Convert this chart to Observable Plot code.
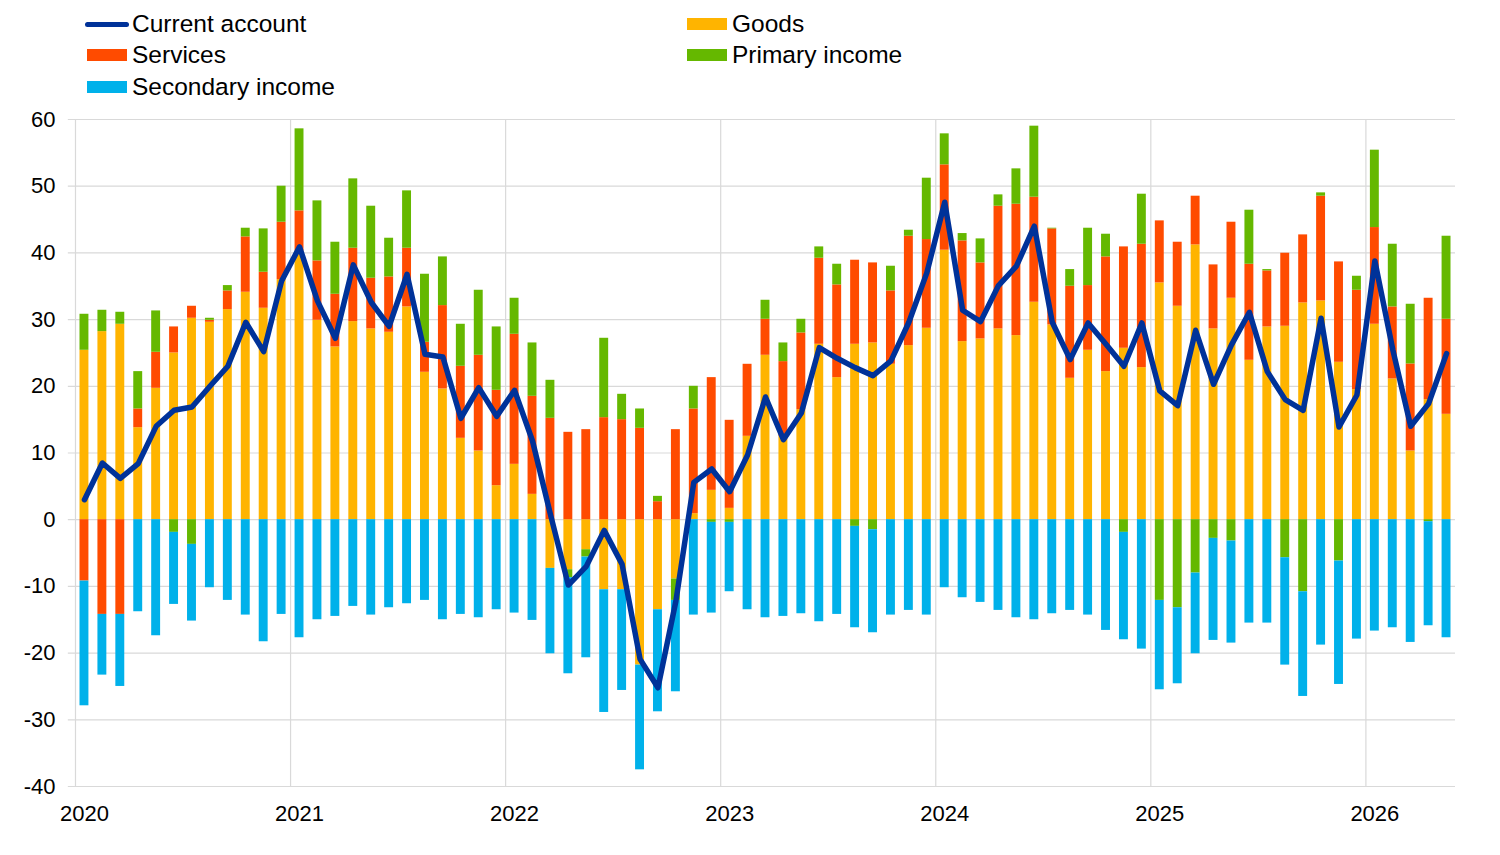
<!DOCTYPE html>
<html>
<head>
<meta charset="utf-8">
<script src="https://cdn.jsdelivr.net/npm/d3@7"></script>
<script src="https://cdn.jsdelivr.net/npm/@observablehq/plot@0.6"></script>
<style>
  html, body { margin: 0; padding: 0; background: #fff; }
  body { width: 1500px; height: 855px; overflow: hidden; font-family: "Liberation Sans", Arial, sans-serif; color: #000; }
  #legend { position: relative; width: 1500px; height: 105px; }
  .item { position: absolute; display: flex; align-items: center; height: 30px; font-size: 24.5px; line-height: 30px; white-space: nowrap; }
  .sw { display: inline-block; width: 40px; height: 12px; margin-right: 5px; }
  .ln { display: inline-block; width: 44px; height: 5px; border-radius: 3px; margin-right: 3px; }
</style>
</head>
<body>
<div id="legend"></div>
<div id="chart"></div>
<script>
// ---- data (EUR billions, monthly) ----
const months = [
  "2020-01","2020-02","2020-03","2020-04","2020-05","2020-06","2020-07","2020-08","2020-09","2020-10","2020-11","2020-12",
  "2021-01","2021-02","2021-03","2021-04","2021-05","2021-06","2021-07","2021-08","2021-09","2021-10","2021-11","2021-12",
  "2022-01","2022-02","2022-03","2022-04","2022-05","2022-06","2022-07","2022-08","2022-09","2022-10","2022-11","2022-12",
  "2023-01","2023-02","2023-03","2023-04","2023-05","2023-06","2023-07","2023-08","2023-09","2023-10","2023-11","2023-12",
  "2024-01","2024-02","2024-03","2024-04","2024-05","2024-06","2024-07","2024-08","2024-09","2024-10","2024-11","2024-12",
  "2025-01","2025-02","2025-03","2025-04","2025-05","2025-06","2025-07","2025-08","2025-09","2025-10","2025-11","2025-12",
  "2026-01","2026-02","2026-03","2026-04","2026-05"
];
const goods = [
  25.4,28.2,29.3,13.8,19.7,25.0,30.2,29.6,31.5,34.1,31.7,36.0,
  40.3,29.9,25.9,29.7,28.6,28.1,31.9,22.1,19.6,12.2,10.3,5.1,
  8.3,3.8,-7.3,-7.5,-4.5,-10.5,-10.5,-21.8,-13.5,-8.9,0.9,4.4,
  1.7,12.5,24.65,12.5,16.5,26.3,21.3,26.3,26.5,23.3,26.1,28.7,
  40.4,26.7,27.1,28.6,27.6,32.6,29.2,21.2,25.4,22.2,25.7,22.8,
  35.5,32.0,41.2,28.6,33.2,23.9,28.9,29.0,32.5,32.8,23.6,19.5,
  29.3,21.1,10.3,18.0,15.8
];
const services = [
  -9.2,-14.2,-14.2,2.8,5.4,3.9,1.8,0.3,2.8,8.3,5.4,8.6,
  6.0,8.9,7.9,11.0,7.6,8.3,8.8,4.5,12.5,10.8,14.35,14.3,
  19.5,14.7,15.2,13.1,13.5,15.3,15.0,13.7,2.7,13.5,15.7,16.9,
  13.2,10.8,5.4,11.2,11.5,12.9,13.9,12.6,12.0,11.0,16.4,13.3,
  12.8,15.1,11.4,18.4,19.7,15.75,14.4,13.8,9.7,17.2,15.2,18.5,
  9.3,9.6,7.3,9.6,11.4,14.4,8.4,10.95,10.2,15.7,15.05,14.9,
  14.5,10.8,13.05,15.2,14.25
];
const primaryIncome = [
  5.4,3.2,1.8,5.6,6.2,-1.9,-3.7,0.3,0.8,1.3,6.5,5.4,
  12.3,9.0,7.8,10.4,10.8,5.8,8.6,10.2,7.3,6.3,9.75,9.5,
  5.4,8.0,5.7,-1.2,-1.1,11.9,3.8,2.9,0.8,-3.2,3.4,-0.4,
  -0.4,0.0,2.85,2.8,2.05,1.7,3.1,-1.0,-1.5,3.7,0.9,9.2,
  4.65,1.1,3.6,1.7,5.3,10.65,0.1,2.5,8.6,3.4,-1.9,7.5,
  -12.1,-13.2,-8.0,-2.8,-3.2,8.1,0.2,-5.7,-10.8,0.5,-6.2,2.1,
  11.6,9.4,8.95,-0.3,12.45
];
const secondaryIncome = [
  -18.7,-9.1,-10.8,-13.8,-17.4,-10.8,-11.5,-10.2,-12.1,-14.3,-18.3,-14.2,
  -17.7,-15.0,-14.5,-13.0,-14.3,-13.2,-12.6,-12.1,-15.0,-14.2,-14.7,-13.5,
  -14.0,-15.1,-12.8,-14.4,-15.1,-18.4,-15.1,-15.7,-15.3,-13.7,-14.3,-13.6,
  -10.4,-13.5,-14.7,-14.5,-14.1,-15.3,-14.2,-15.2,-15.45,-14.3,-13.6,-14.3,
  -10.2,-11.7,-12.4,-13.6,-14.7,-15.0,-14.1,-13.6,-14.3,-16.6,-16.1,-19.4,
  -13.4,-11.4,-12.1,-15.3,-15.3,-15.5,-15.5,-16.1,-15.7,-18.8,-18.5,-17.9,
  -16.7,-16.2,-18.4,-15.6,-17.7
];
const currentAccount = [
  3.0,8.5,6.2,8.4,14.0,16.4,16.9,20.0,23.0,29.6,25.2,35.8,
  40.9,32.8,27.2,38.2,32.6,29.0,36.8,24.8,24.4,15.2,19.8,15.5,
  19.4,11.8,0.8,-9.8,-7.0,-1.6,-6.7,-20.9,-25.2,-12.2,5.6,7.6,
  4.2,9.7,18.4,12.0,16.0,25.8,24.2,22.8,21.6,23.8,29.6,37.0,
  47.6,31.4,29.7,35.1,38.0,44.0,29.6,24.0,29.5,26.3,23.0,29.5,
  19.3,17.1,28.4,20.3,26.2,31.1,22.2,18.0,16.4,30.2,13.9,18.7,
  38.8,25.5,14.0,17.4,24.9
];
const yearLabels = ["2020","2021","2022","2023","2024","2025","2026"];
const yTicks = [-40,-30,-20,-10,0,10,20,30,40,50,60];

const seriesNames = ["Goods","Services","Primary income","Secondary income"];
const seriesColors = ["#FFB400","#FF4B00","#65B800","#00B1EA"];
const lineName = "Current account";
const lineColor = "#003299";

// ---- legend ----
const legend = document.getElementById("legend");
const legendItems = [
  {name: lineName, color: lineColor, line: true, left: 85, top: 9},
  {name: "Goods", color: seriesColors[0], left: 687, top: 9},
  {name: "Services", color: seriesColors[1], left: 87, top: 40},
  {name: "Primary income", color: seriesColors[2], left: 687, top: 40},
  {name: "Secondary income", color: seriesColors[3], left: 87, top: 72}
];
for (const it of legendItems) {
  const d = document.createElement("div");
  d.className = "item";
  d.style.left = it.left + "px";
  d.style.top = it.top + "px";
  const s = document.createElement("span");
  s.className = it.line ? "ln" : "sw";
  s.style.background = it.color;
  d.appendChild(s);
  d.appendChild(document.createTextNode(it.name));
  legend.appendChild(d);
}

// ---- tidy table ----
const seriesArrays = [goods, services, primaryIncome, secondaryIncome];
const bars = [];
months.forEach((m, i) => {
  seriesArrays.forEach((arr, k) => {
    bars.push({month: m, x1: i, x2: i + 1, series: seriesNames[k], value: arr[i]});
  });
});
const line = months.map((m, i) => ({month: m, x: i + 0.5, value: currentAccount[i]}));
const yearStarts = yearLabels.map((y, k) => months.indexOf(y + "-01"));

const chart = Plot.plot({
  width: 1500,
  height: 750,
  marginLeft: 75,
  marginRight: 45,
  marginTop: 14,
  marginBottom: 69,
  style: {fontFamily: "'Liberation Sans', Arial, sans-serif", fontSize: "22px", color: "#000", background: "#fff"},
  x: {type: "linear", domain: [0, months.length], label: null},
  y: {domain: [-40, 60], label: null},
  color: {domain: seriesNames, range: seriesColors},
  marks: [
    Plot.ruleY(yTicks, {y: d => d, x1: -0.4, x2: months.length, stroke: "#d9d9d9", strokeWidth: 1.2}),
    Plot.ruleX(yearStarts, {x: d => d, y1: -40, y2: 60, stroke: "#d9d9d9", strokeWidth: 1.2}),
    Plot.rectY(bars, {x1: "x1", x2: "x2", y: "value", fill: "series", insetLeft: 4.5, insetRight: 4.5}),
    Plot.line(line, {x: "x", y: "value", stroke: lineColor, strokeWidth: 5.5, strokeLinejoin: "round", strokeLinecap: "round"}),
    Plot.axisY(yTicks, {tickSize: 0, tickPadding: 20, fontSize: 22, fill: "#000", label: null,
      tickFormat: d => String(d)}),
    Plot.axisX(yearStarts.map(d => d + 0.5), {tickSize: 0, tickPadding: 19, fontSize: 22, fill: "#000", label: null,
      tickFormat: d => yearLabels[yearStarts.indexOf(d - 0.5)]})
  ]
});
document.getElementById("chart").appendChild(chart);
</script>
</body>
</html>
